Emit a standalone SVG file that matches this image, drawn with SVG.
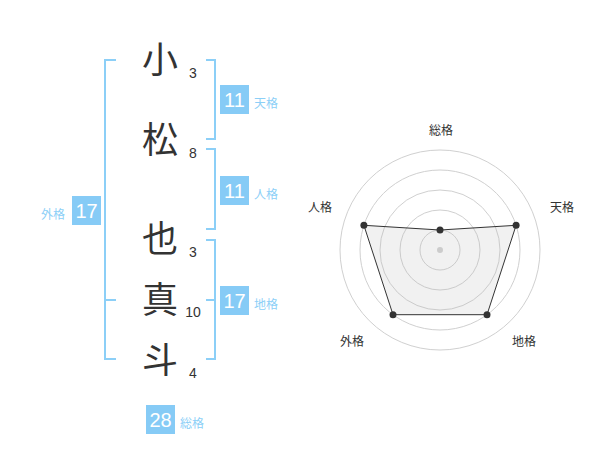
<svg xmlns="http://www.w3.org/2000/svg" width="600" height="470" viewBox="0 0 600 470">
<style>
.ch{font-family:"Noto Sans CJK JP","Noto Sans CJK SC",sans-serif;font-size:36px;fill:#333;text-anchor:middle}
.num{font-family:"Liberation Sans",Arial,sans-serif;font-size:14px;fill:#333;text-anchor:middle}
.br{fill:none;stroke:#8ccff7;stroke-width:2}
.box{fill:#86cbf6}
.bt{font-family:"Liberation Sans",Arial,sans-serif;font-size:20px;fill:#fff;text-anchor:middle}
.lb{font-family:"Noto Sans CJK JP","Noto Sans CJK SC",sans-serif;font-size:12px;fill:#8ccff7}
.ring{fill:none;stroke:#d0d0d0;stroke-width:1}
.rl{font-family:"Noto Sans CJK JP","Noto Sans CJK SC",sans-serif;font-size:12px;fill:#333;text-anchor:middle}
.dot{fill:#333}
</style>
<rect width="600" height="470" fill="#fff"/>
<g id="connectors">
<path class="br" d="M116,60 H105 V359 H116 M105,300 H116"/>
<path class="br" d="M206,60 H215 V139 H206"/>
<path class="br" d="M206,149 H215 V229 H206"/>
<path class="br" d="M206,240 H215 V359 H206 M206,300 H215"/>
</g>
<g id="chars">
<g id="c1"><text class="ch" x="160" y="73">小</text><text class="num" x="193" y="78">3</text></g>
<g id="c2"><text class="ch" x="160" y="153">松</text><text class="num" x="193" y="158">8</text></g>
<g id="c3"><text class="ch" x="160" y="252">也</text><text class="num" x="193" y="257">3</text></g>
<g id="c4"><text class="ch" x="160" y="313">真</text><text class="num" x="193" y="317">10</text></g>
<g id="c5"><text class="ch" x="160" y="373">斗</text><text class="num" x="193" y="378">4</text></g>
</g>
<g id="tenkaku"><rect class="box" x="220" y="85" width="29" height="29"/><text class="bt" x="234.5" y="107">11</text><text class="lb" x="254" y="108">天格</text></g>
<g id="jinkaku"><rect class="box" x="220" y="176" width="29" height="29"/><text class="bt" x="234.5" y="198">11</text><text class="lb" x="254" y="199">人格</text></g>
<g id="chikaku"><rect class="box" x="220" y="286" width="29" height="29"/><text class="bt" x="234.5" y="308">17</text><text class="lb" x="254" y="309">地格</text></g>
<g id="gaikaku"><rect class="box" x="72" y="196" width="29" height="29"/><text class="bt" x="86.5" y="218">17</text><text class="lb" x="41" y="219">外格</text></g>
<g id="soukaku"><rect class="box" x="146" y="405" width="29" height="29"/><text class="bt" x="160.5" y="427">28</text><text class="lb" x="180" y="428">総格</text></g>
<g id="radar">
<circle class="ring" cx="440" cy="250" r="20"/>
<circle class="ring" cx="440" cy="250" r="40"/>
<circle class="ring" cx="440" cy="250" r="60"/>
<circle class="ring" cx="440" cy="250" r="80"/>
<circle class="ring" cx="440" cy="250" r="100"/>
<polygon points="440,230 516.1,225.3 487,314.7 393,314.7 363.9,225.3" fill="#bbb" fill-opacity="0.2" stroke="#333" stroke-width="1"/>
<circle cx="440" cy="250" r="3" fill="#ccc"/>
<circle class="dot" cx="440" cy="230" r="3.5"/>
<circle class="dot" cx="516.1" cy="225.3" r="3.5"/>
<circle class="dot" cx="487" cy="314.7" r="3.5"/>
<circle class="dot" cx="393" cy="314.7" r="3.5"/>
<circle class="dot" cx="363.9" cy="225.3" r="3.5"/>
<text class="rl" x="441" y="135">総格</text>
<text class="rl" x="562" y="212">天格</text>
<text class="rl" x="320" y="212">人格</text>
<text class="rl" x="524" y="346">地格</text>
<text class="rl" x="352" y="346">外格</text>
</g>
</svg>
